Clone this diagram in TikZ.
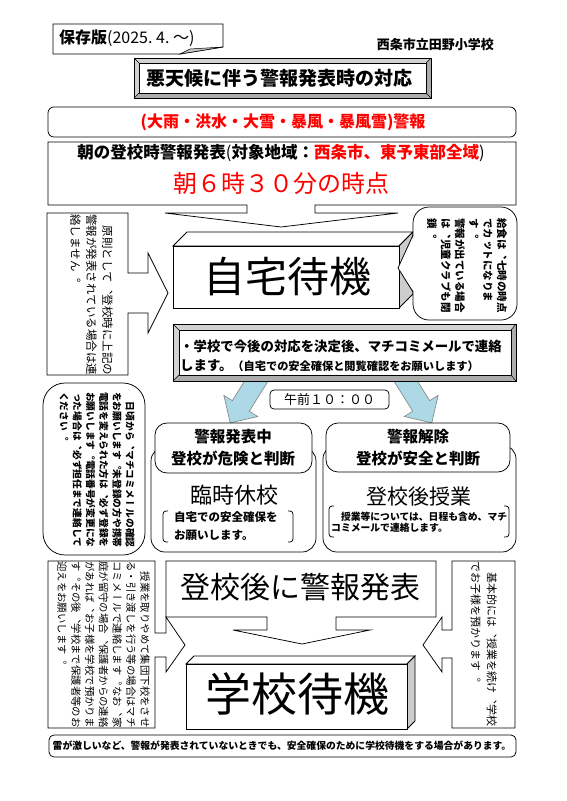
\documentclass[tikz,border=0pt]{standalone}
\usepackage{fontspec}
\setmainfont{Noto Sans CJK JP}
\newfontfamily\tatefont[Vertical=RotatedGlyphs]{Noto Sans CJK JP}
\usetikzlibrary{positioning,calc}

\definecolor{warnred}{RGB}{255,0,0}
\definecolor{arrowblue}{RGB}{173,216,230}

\tikzset{
  line/.style={draw=black, line width=0.75pt},
  roundbox/.style={line, fill=white, rounded corners=12pt},
  tate/.style={rotate=-90, anchor=north west, inner sep=0pt, align=left},
  bluearrow/.style={draw=gray, fill=arrowblue, line width=0.6pt},
}

\begin{document}
\begin{tikzpicture}[x=1pt, y=-1pt]
\useasboundingbox (0,0) rectangle (566,801);

% header
\draw[line, fill=white] (53,24) -- (223,24) -- (223,47) -- (180,54) -- (53,54) -- cycle;
\draw[line, fill=gray!45, line width=0.5pt] (180,54) -- (223,47) -- (190,49) -- cycle;
\node[anchor=west, inner sep=0pt] (edition) at (59,38) {\fontsize{16}{16}\selectfont\textbf{保存版}(2025.\ 4.\ 〜)};
\node[anchor=east, inner sep=0pt] (school) at (494,45) {\fontsize{13}{13}\selectfont\textbf{西条市立田野小学校}};

% title with bevel
\fill[gray!35] (134,58) rectangle (431,98);
\fill[gray!65] (431,58) -- (426,63) -- (426,93) -- (139,93) -- (134,98) -- (431,98) -- cycle;
\draw[line, fill=white] (139,63) rectangle (426,93);
\draw[line] (134,58) rectangle (431,98);
\draw[line, line width=0.5pt] (134,58) -- (139,63) (431,58) -- (426,63) (134,98) -- (139,93) (431,98) -- (426,93);
\node (title) at (279,78) {\fontsize{19}{19}\selectfont\textbf{悪天候に伴う警報発表時の対応}};

% warning kinds
\draw[roundbox, rounded corners=6pt] (48,107) rectangle (516,137);
\node (alert) at (283,122) {\fontsize{16}{16}\selectfont\textbf{\textcolor{warnred}{(大雨・洪水・大雪・暴風・暴風雪)警報}}};

% morning announcement with down arrow
\draw[line, fill=white] (48,142) -- (516,142) -- (516,205) -- (315,205) -- (315,213) -- (398,213) -- (281,227)
  -- (165,213) -- (247,213) -- (247,205) -- (48,205) -- cycle;
\node (morning) at (281,153) {\fontsize{16.5}{16.5}\selectfont\textbf{朝の登校時警報発表}(\textbf{対象地域：\textcolor{warnred}{西条市、東予東部全域}})};
\node (morningtime) at (281,183) {\fontsize{24}{24}\selectfont\textcolor{warnred}{朝６時３０分の時点}};

% left note with right arrow
\draw[line, fill=white] (47,213) -- (128,213) -- (128,273) -- (148,273) -- (148,253) -- (168,293) -- (148,333)
  -- (148,313) -- (128,313) -- (128,375) -- (47,375) -- cycle;
\node[tate, font=\tatefont\fontsize{11.5}{16}\selectfont] (ruletext) at (113,214)
  {　原則として、登校時に上記の\\警報が発表されている場合は連\\絡しません。};

% home waiting box
\draw[line, fill=white] (173,246) -- (187,232) -- (413,232) -- (399,246) -- cycle;
\draw[line, fill=gray!40] (399,246) -- (413,232) -- (413,294) -- (399,308) -- cycle;
\draw[line, fill=white] (173,246) rectangle (399,308);
\node (home) at (287,277) {\fontsize{42}{42}\selectfont 自宅待機};

% lunch note bubble
\draw[roundbox, rounded corners=16pt] (413,207) rectangle (517,320);
\fill[white] (414,235) -- (398,268) -- (414,292) -- cycle;
\draw[line] (413,235) -- (398,268) -- (413,292);
\node[tate, font=\tatefont\bfseries\fontsize{10.5}{14}\selectfont] (lunchnote) at (507,218)
  {給食は、七時の時点\\でカットになりま\\す。\\警報が出ている場合\\は、児童クラブも閉\\鎖。};

% blue arrows
\begin{scope}[shift={(262,372)}, rotate=-122]
  \draw[bluearrow] (0,-10) -- (40,-10) -- (40,-20) -- (60,0) -- (40,20) -- (40,10) -- (0,10) -- cycle;
\end{scope}
\begin{scope}[shift={(400,372)}, rotate=-58]
  \draw[bluearrow] (0,-10) -- (40,-10) -- (40,-20) -- (60,0) -- (40,20) -- (40,10) -- (0,10) -- cycle;
\end{scope}

% decision box with bevel
\fill[gray!35] (173,324) rectangle (516,381);
\fill[gray!65] (516,324) -- (511,330) -- (511,375) -- (179,375) -- (173,381) -- (516,381) -- cycle;
\draw[line, fill=white] (179,330) rectangle (511,375);
\draw[line] (173,324) rectangle (516,381);
\draw[line, line width=0.5pt] (173,324) -- (179,330) (516,324) -- (511,330) (173,381) -- (179,375) (516,381) -- (511,375);
\node[anchor=west, inner sep=0pt] (decided) at (180,346) {\fontsize{13.4}{13.4}\selectfont\textbf{・学校で今後の対応を決定後、マチコミメールで連絡}};
\node[anchor=west, inner sep=0pt] (decided2) at (180,366) {\fontsize{13.4}{13.4}\selectfont\textbf{します。}\fontsize{11.2}{11.2}\selectfont\textbf{（自宅での安全確保と閲覧確認をお願いします）}};

% ten o'clock
\draw[roundbox, rounded corners=4pt] (270,390) rectangle (389,409);
\node (tenam) at (329.5,399.5) {\fontsize{13}{13}\selectfont 午前１０：００};

% school closed
\draw[roundbox, rounded corners=14pt] (151,447) rectangle (316,552);
\draw[roundbox] (155,423) rectangle (312,473);
\node (danger) at (233,437) {\fontsize{15.5}{15.5}\selectfont\textbf{警報発表中}};
\node (danger2) at (233,458) {\fontsize{15.5}{15.5}\selectfont\textbf{登校が危険と判断}};
\node (closure) at (234,495) {\fontsize{22}{22}\selectfont 臨時休校};
\draw[line, rounded corners=3pt] (168,511) -- (163,511) -- (163,542) -- (168,542);
\draw[line, rounded corners=3pt] (288,511) -- (293,511) -- (293,542) -- (288,542);
\node[anchor=west, inner sep=0pt, align=left, font=\bfseries\fontsize{11.5}{18}\selectfont] (closurenote) at (174,526)
  {自宅での安全確保を\\お願いします。};

% classes held
\draw[roundbox, rounded corners=14pt] (323,445) rectangle (516,552);
\draw[roundbox] (326,423) rectangle (510,472);
\node (safe) at (418,437) {\fontsize{15.5}{15.5}\selectfont\textbf{警報解除}};
\node (safe2) at (418,458) {\fontsize{15.5}{15.5}\selectfont\textbf{登校が安全と判断}};
\node (classes) at (419,497) {\fontsize{21}{21}\selectfont 登校後授業};
\draw[line, rounded corners=3pt] (334,506) -- (329,506) -- (329,537) -- (334,537);
\draw[line, rounded corners=3pt] (504,506) -- (509,506) -- (509,537) -- (504,537);
\node[anchor=west, inner sep=0pt, align=left, font=\bfseries\fontsize{9.8}{11}\selectfont] (classesnote) at (331,522)
  {　授業等については、日程も含め、マチ\\コミメールで連絡します。};

% contact bubble
\draw[roundbox, rounded corners=22pt] (43,383) rectangle (145,555);
\node[tate, font=\tatefont\bfseries\fontsize{9.7}{13.2}\selectfont] (contact) at (135,392)
  {　日頃から、マチコミメールの確認\\をお願いします。未登録の方や携帯\\電話を変えられた方は、必ず登録を\\お願いします。電話番号が変更にな\\った場合は、必ず担任まで連絡して\\ください。};

% warning after arrival
\draw[line, fill=white] (166,561) -- (436,561) -- (436,617) -- (336,617) -- (336,630) -- (370,630) -- (302,644)
  -- (233,630) -- (267,630) -- (267,617) -- (166,617) -- cycle;
\node (afterwarn) at (300,587) {\fontsize{30}{30}\selectfont 登校後に警報発表};

% school waiting box
\draw[line, fill=white] (186,664) -- (194,656) -- (415,656) -- (407,664) -- cycle;
\draw[line, fill=gray!40] (407,664) -- (415,656) -- (415,721) -- (407,729) -- cycle;
\draw[line, fill=white] (186,664) rectangle (407,729);
\node (stay) at (297,694) {\fontsize{46}{46}\selectfont 学校待機};

% left note with right arrow
\draw[line, fill=white] (48,561) -- (155,561) -- (155,633) -- (166,633) -- (166,617) -- (185,645) -- (166,672)
  -- (166,657) -- (155,657) -- (155,728) -- (48,728) -- cycle;
\node[tate, font=\tatefont\fontsize{10.4}{13.8}\selectfont] (pickup) at (150,561)
  {　授業を取りやめて集団下校をさせ\\る・引き渡しを行う等の場合はマチ\\コミメールで連絡します。なお、家\\庭が留守の場合、保護者からの連絡\\があれば、お子様を学校で預かりま\\す。その後、学校まで保護者等のお\\迎えをお願いします。};

% right note with left arrow
\draw[line, fill=white] (515,561) -- (452,561) -- (452,630) -- (442,630) -- (442,617) -- (423,645) -- (442,672)
  -- (442,658) -- (452,658) -- (452,728) -- (515,728) -- cycle;
\node[tate, font=\tatefont\fontsize{11}{16}\selectfont] (keepnote) at (497,561)
  {　基本的には、授業を続け、学校\\でお子様を預かります。};

% thunder note
\draw[roundbox, rounded corners=5pt] (49,735) rectangle (516,757);
\node (thunder) at (282,746) {\fontsize{9.8}{9.8}\selectfont\textbf{雷が激しいなど、警報が発表されていないときでも、安全確保のために学校待機をする場合があります。}};
\end{tikzpicture}
\end{document}
